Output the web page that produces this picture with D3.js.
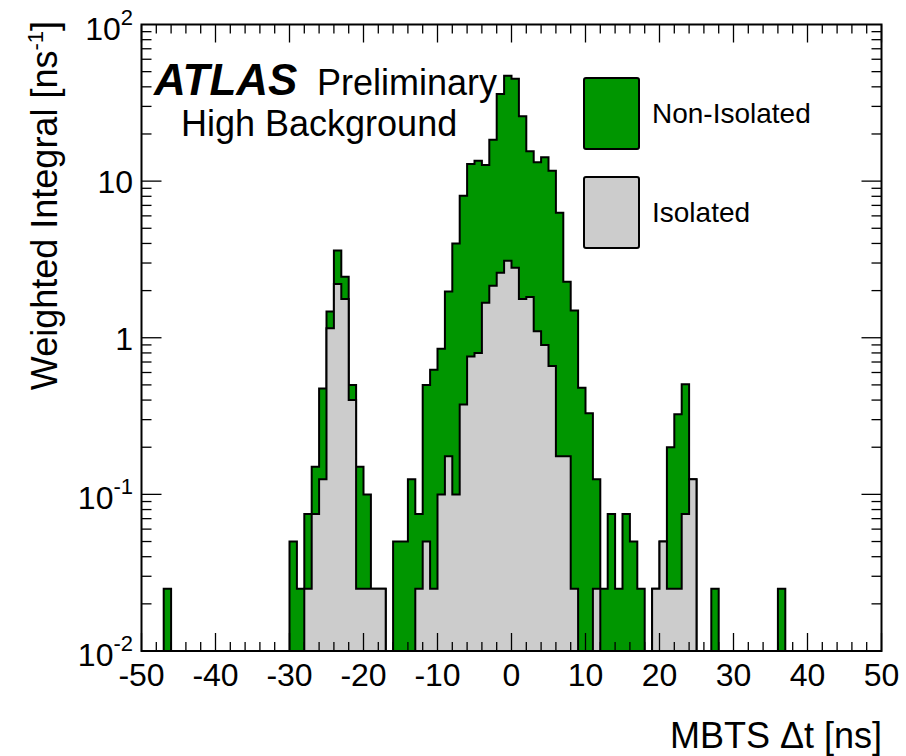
<!DOCTYPE html>
<html><head><meta charset="utf-8">
<script src="https://cdn.jsdelivr.net/npm/d3@7"></script>
<style>
body{margin:0;background:#fff}
svg{display:block}
text{font-family:"Liberation Sans",Arial,Helvetica,sans-serif;fill:#000}
</style>
</head><body>
<svg id="chart" width="906" height="756"></svg>
<script>
// ---- data: 1 ns bins from -50 to 50 (low edges) ----
const binLowEdges = d3.range(-50, 50, 1);
const binWidth = 1;
// Isolated contribution per bin [ns^-1]
const isolated = [
  0,0,0,0,0,0,0,0,0,0,
  0,0,0,0,0,0,0,0,0,0,
  0,0,0.025,0.075,0.125,1.15,2.2,1.77,0.4,0.025,
  0.025,0.025,0.025,0,0,0,0,0.025,0.05,0.025,
  0.1,0.175,0.1,0.375,0.76,0.8,1.67,2.15,2.6,3.1,
  2.8,1.77,1.82,1.1,0.9,0.66,0.175,0.175,0.025,0,
  0,0.025,0,0,0,0,0,0,0,0.025,
  0.05,0.025,0.025,0.075,0.125,0,0,0,0,0,
  0,0,0,0,0,0,0,0,0,0,
  0,0,0,0,0,0,0,0,0,0
];
// Non-Isolated contribution per bin [ns^-1] (stacked on top of Isolated)
const nonIsolated = [
  0,0,0,0.025,0,0,0,0,0,0,
  0,0,0,0,0,0,0,0,0,0,
  0.05,0.025,0.05,0.075,0.35,0.32,1.4,0.68,0.1,0.125,
  0.075,0,0,0,0.05,0.05,0.125,0.05,0.45,0.6,
  0.75,1.8,3.9,7.7,12.1,12.7,11.0,16.2,33.4,43.9,
  42.2,24.2,13.7,12.1,13.3,11.0,6.1,2.1,1.47,0.48,
  0.33,0.1,0.025,0.075,0.025,0.075,0.05,0.025,0,0,
  0,0.175,0.3,0.43,0,0,0,0.025,0,0,
  0,0,0,0,0,0,0.025,0,0,0,
  0,0,0,0,0,0,0,0,0,0
];
const seriesNames = ["Non-Isolated", "Isolated"];
const seriesColors = ["#009600", "#cccccc"];
const xTickValues = [-50,-40,-30,-20,-10,0,10,20,30,40,50];
const yTickValues = [100, 10, 1, 0.1, 0.01];
const yTickLabels = [["10","2"],["10",""],["1",""],["10","-1"],["10","-2"]];

// ---- layout ----
const svg = d3.select("#chart");
const L = 141.5, R = 881.5, T = 24.5, B = 651;
const x = d3.scaleLinear().domain([-50, 50]).range([L, R]);
const y = d3.scaleLog().domain([0.01, 100]).range([B, T]);

const rows = binLowEdges.map((lo, i) => ({lo, iso: isolated[i], non: nonIsolated[i]}));
const stack = d3.stack().keys(["iso", "non"])(rows);
const isoTop = stack[0].map(d => d[1]);
const totalTop = stack[1].map(d => d[1]);

svg.append("defs").append("clipPath").attr("id", "clip")
  .append("rect").attr("x", L).attr("y", T).attr("width", R - L).attr("height", B - T);

function yv(v) { return v > 0 ? y(Math.max(v, 0.01)) : B + 2; }
function stepPath(tops) {
  const p = d3.path();
  p.moveTo(x(binLowEdges[0]), B + 2);
  tops.forEach((v, i) => {
    const lo = binLowEdges[i], hi = lo + binWidth;
    p.lineTo(x(lo), yv(v));
    p.lineTo(x(hi), yv(v));
  });
  p.lineTo(x(binLowEdges[binLowEdges.length - 1] + binWidth), B + 2);
  p.closePath();
  return p.toString();
}

const g = svg.append("g").attr("clip-path", "url(#clip)");
g.append("path").attr("d", stepPath(totalTop))
  .attr("fill", seriesColors[0]).attr("stroke", "#000").attr("stroke-width", 2)
  .attr("stroke-linejoin", "miter");
g.append("path").attr("d", stepPath(isoTop))
  .attr("fill", seriesColors[1]).attr("stroke", "#000").attr("stroke-width", 2)
  .attr("stroke-linejoin", "miter");

// ---- ticks ----
const tk = svg.append("g").attr("stroke", "#000").attr("stroke-width", 1.3);
d3.range(-50, 51, 2).forEach(v => {
  const major = xTickValues.includes(v);
  const len = major ? 18 : 9;
  tk.append("line").attr("x1", x(v)).attr("x2", x(v)).attr("y1", B).attr("y2", B - len);
  tk.append("line").attr("x1", x(v)).attr("x2", x(v)).attr("y1", T).attr("y2", T + len);
});
[0.01, 0.1, 1, 10].forEach(dec => {
  for (let k = 1; k <= 9; k++) {
    const v = dec * k;
    const len = k === 1 ? 20 : 10;
    tk.append("line").attr("x1", L).attr("x2", L + len).attr("y1", y(v)).attr("y2", y(v));
    tk.append("line").attr("x1", R).attr("x2", R - len).attr("y1", y(v)).attr("y2", y(v));
  }
});

// frame
svg.append("rect").attr("x", L).attr("y", T).attr("width", R - L).attr("height", B - T)
  .attr("fill", "none").attr("stroke", "#000").attr("stroke-width", 2);

// ---- tick labels ----
const xl = svg.append("g");
xTickValues.forEach(v => {
  xl.append("text").attr("x", x(v)).attr("y", 686).attr("text-anchor", "middle")
    .attr("font-size", 32).text(v);
});
const yl = svg.append("g");
yTickValues.forEach((v, i) => {
  const [base, exp] = yTickLabels[i];
  const t = yl.append("text").attr("x", 133).attr("y", y(v) + (exp ? 15 : 12))
    .attr("text-anchor", "end").attr("font-size", 32);
  t.append("tspan").text(base);
  if (exp) t.append("tspan").attr("font-size", 22).attr("dy", -15).text(exp);
});

// ---- axis titles ----
svg.append("text").attr("x", 882).attr("y", 748).attr("text-anchor", "end")
  .attr("font-size", 36).text("MBTS \u0394t [ns]");
const yt = svg.append("text").attr("transform", "translate(57,21) rotate(-90)")
  .attr("text-anchor", "end").attr("font-size", 36);
yt.append("tspan").text("Weighted Integral [ns");
yt.append("tspan").attr("font-size", 22).attr("dy", -14).text("-1");
yt.append("tspan").attr("dy", 14).text("]");

// ---- labels ----
svg.append("text").attr("x", 154).attr("y", 95).attr("font-size", 44)
  .attr("font-weight", "bold").attr("font-style", "italic").text("ATLAS");
svg.append("text").attr("x", 317).attr("y", 95).attr("font-size", 36).text("Preliminary");
svg.append("text").attr("x", 181).attr("y", 136).attr("font-size", 36).text("High Background");

// ---- legend ----
const legY = [78, 177];
seriesNames.forEach((name, i) => {
  svg.append("rect").attr("x", 584).attr("y", legY[i]).attr("width", 55).attr("height", 71)
    .attr("rx", 2).attr("fill", seriesColors[i]).attr("stroke", "#000").attr("stroke-width", 2);
  svg.append("text").attr("x", 652).attr("y", legY[i] + 45).attr("font-size", 28).text(name);
});
</script>
</body></html>
